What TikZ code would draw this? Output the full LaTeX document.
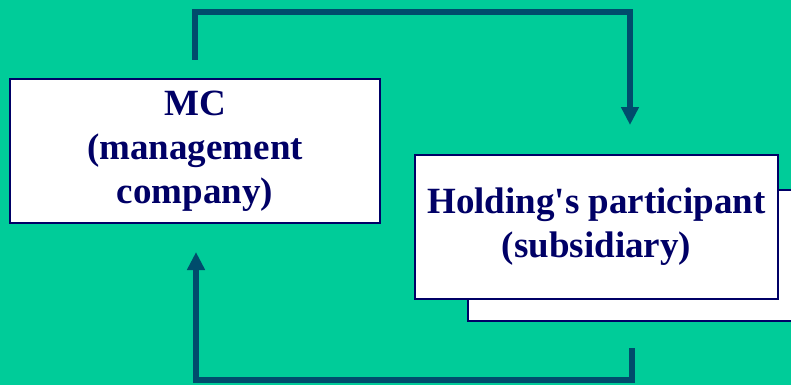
\documentclass[tikz,border=0pt]{standalone}
\usepackage{fontspec}
\setmainfont{Liberation Serif}
\usetikzlibrary{arrows.meta}
\definecolor{fondo}{HTML}{00CC99}
\definecolor{flecha}{HTML}{004C6C}
\definecolor{marino}{HTML}{000066}
\tikzset{
  caja/.style={draw=marino, line width=1.8pt, fill=white, align=center,
    text=marino, font=\fontsize{37}{44}\selectfont\bfseries, inner sep=0pt},
  flujo/.style={draw=flecha, line width=5.5pt,
    -{Triangle[width=17pt,length=18pt]}}
}
\begin{document}
\begin{tikzpicture}[x=1pt,y=-1pt]
                    % Fondo
                    \fill[fondo] (0,0) rectangle (791,385);
                    \useasboundingbox (0,0) rectangle (791,385);
                    % Cajas
                    \node[caja, minimum width=370pt, minimum height=144pt]
                       (mc) at (195,151) {MC\\(management\\company)};
                    \node[caja, minimum width=362pt, minimum height=131pt]
                       (subback) at (649,255.5) {};
                    \node[caja, minimum width=363pt, minimum height=144pt]
                       (sub) at (596.5,227) {Holding\textquotesingle s participant\\(subsidiary)};
                    % Flechas
                    \coordinate (arribaini) at (195,60);
                    \coordinate (arribafin) at (630,125);
                    \coordinate (abajoini) at (632,348);
                    \coordinate (abajofin) at (196,252);
                    \draw[flujo] (arribaini) -- (arribaini |- 0,12) -| (arribafin);
                    \draw[flujo] (abajoini) -- (abajoini |- 0,380) -| (abajofin);
                \end{tikzpicture}
\end{document}
